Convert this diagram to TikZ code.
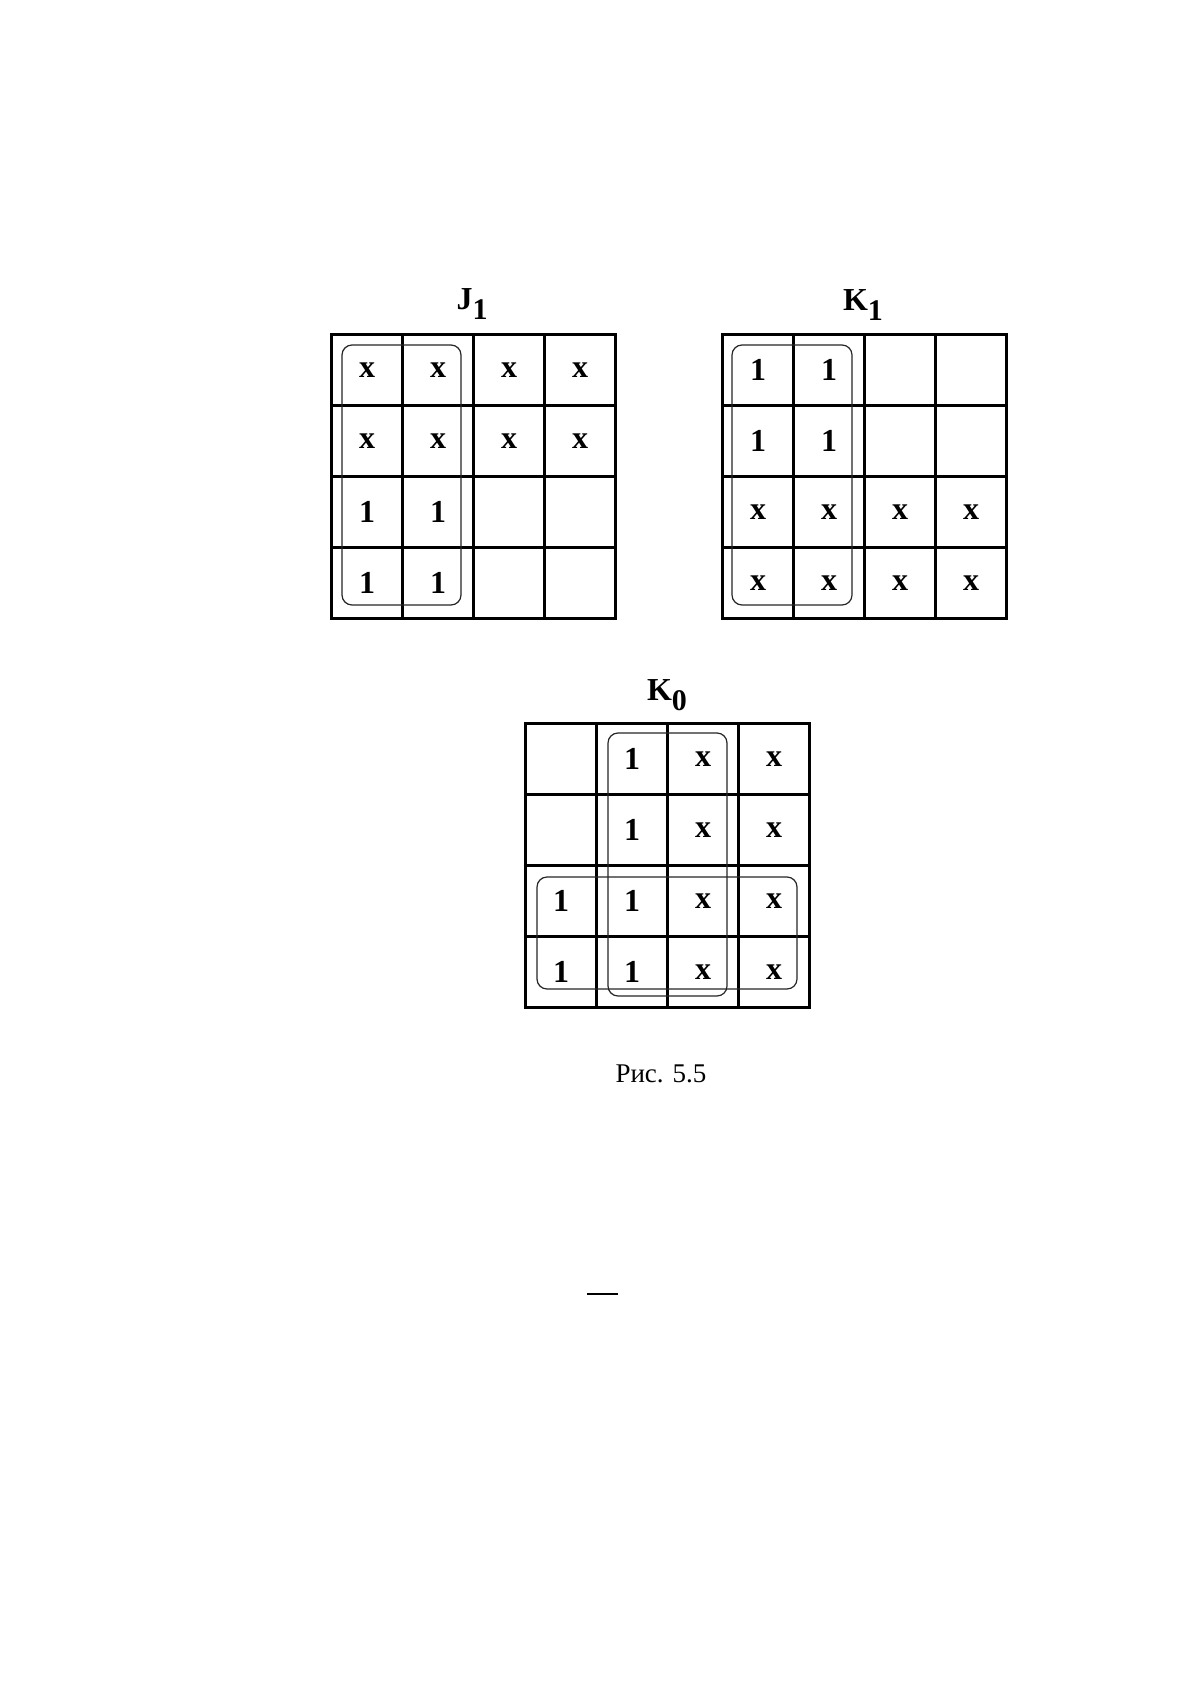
\documentclass[tikz,border=0pt]{standalone}
\usepackage{fontspec}
\setmainfont{Liberation Serif}
\usetikzlibrary{positioning}

\tikzset{
  cell/.style={draw, line width=1.6pt, minimum size=35.5pt, inner sep=0pt, anchor=north west,
    font=\fontsize{16}{16}\selectfont\bfseries},
  group/.style={draw=black!85, line width=0.6pt, rounded corners=5pt},
  maptitle/.style={anchor=base, inner sep=0pt, font=\fontsize{16}{16}\selectfont\bfseries}
}

% one 4x4 map: name, left, top, rows of entries
\newcommand{\kmap}[4]{%
  \foreach \row [count=\r] in {#4} {
    \foreach \v [count=\c] in \row {
      \node[cell] (#1-\r-\c) at ({#2+(\c-1)*71},{#3+(\r-1)*71}) {\v};
    }
  }
}

\begin{document}
\begin{tikzpicture}[x=0.5pt, y=-0.5pt]
  \useasboundingbox[fill=white] (0,0) rectangle (1191,1684);

  % the three maps
  \kmap{J}{330}{333}{{x,x,x,x},{x,x,x,x},{1,1,{},{}},{1,1,{},{}}}
  \kmap{K}{721}{333}{{1,1,{},{}},{1,1,{},{}},{x,x,x,x},{x,x,x,x}}
  \kmap{L}{524}{722}{{{},1,x,x},{{},1,x,x},{1,1,x,x},{1,1,x,x}}

  % titles
  \node[maptitle] (Jtitle) at (472,310) {J\raisebox{-5pt}{\fontsize{15}{15}\selectfont 1}};
  \node[maptitle] (Ktitle) at (863,311) {K\raisebox{-5pt}{\fontsize{15}{15}\selectfont 1}};
  \node[maptitle] (Ltitle) at (667,700) {K\raisebox{-5pt}{\fontsize{15}{15}\selectfont 0}};

  % groups
  \draw[group] (342,345) rectangle (461,605);
  \draw[group] (732,345) rectangle (852,605);
  \draw[group] (608,733) rectangle (727,996);
  \draw[group] (537,877) rectangle (797,989);

  % caption
  \node[anchor=base, inner sep=0pt, font=\fontsize{13.5}{13.5}\selectfont] (caption) at (661,1082) {Рис. 5.5};
  \draw[line width=0.8pt] (587,1294) -- (618,1294);
\end{tikzpicture}
\end{document}
